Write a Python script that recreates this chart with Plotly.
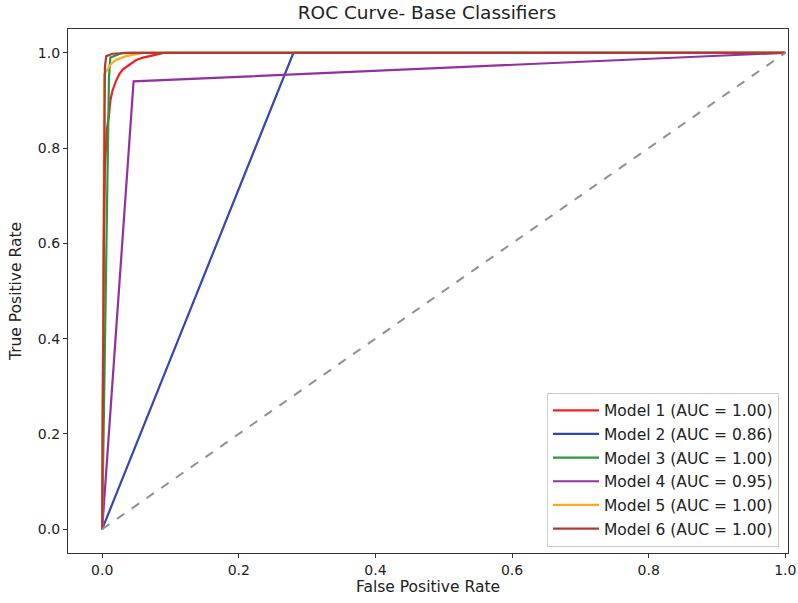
import plotly.graph_objects as go

# ---- data ----
model_names = ["Model 1", "Model 2", "Model 3", "Model 4", "Model 5", "Model 6"]
auc_values = [1.00, 0.86, 1.00, 0.95, 1.00, 1.00]

fpr_m1 = [0.0, 0.001, 0.002, 0.004, 0.007, 0.010, 0.012, 0.015, 0.020, 0.025, 0.030, 0.040, 0.050, 0.060, 0.075, 0.090, 1.0]
tpr_m1 = [0.0, 0.30, 0.55, 0.76, 0.84, 0.87, 0.90, 0.92, 0.94, 0.955, 0.965, 0.975, 0.985, 0.990, 0.995, 1.0, 1.0]

fpr_m2 = [0.0, 0.28, 1.0]
tpr_m2 = [0.0, 1.0, 1.0]

fpr_m3 = [0.0, 0.003, 0.008, 0.010, 0.012, 0.030, 1.0]
tpr_m3 = [0.0, 0.30, 0.70, 0.95, 0.99, 1.0, 1.0]

fpr_m4 = [0.0, 0.046, 1.0]
tpr_m4 = [0.0, 0.94, 1.0]

fpr_m5 = [0.0, 0.002, 0.003, 0.008, 0.012, 0.020, 0.035, 0.060, 1.0]
tpr_m5 = [0.0, 0.90, 0.955, 0.965, 0.975, 0.985, 0.993, 1.0, 1.0]

fpr_m6 = [0.0, 0.003, 0.004, 0.006, 0.015, 0.040, 1.0]
tpr_m6 = [0.0, 0.70, 0.97, 0.993, 0.998, 1.0, 1.0]

chance_x = [0.0, 1.0]
chance_y = [0.0, 1.0]

x_ticks = [0.0, 0.2, 0.4, 0.6, 0.8, 1.0]
y_ticks = [0.0, 0.2, 0.4, 0.6, 0.8, 1.0]

colors = ["#f02020", "#3447b0", "#2a9a3a", "#9330a0", "#ffa820", "#b03a38"]

fprs = [fpr_m1, fpr_m2, fpr_m3, fpr_m4, fpr_m5, fpr_m6]
tprs = [tpr_m1, tpr_m2, tpr_m3, tpr_m4, tpr_m5, tpr_m6]

fig = go.Figure()
for i in range(6):
    fig.add_trace(go.Scatter(
        x=fprs[i], y=tprs[i], mode="lines",
        name=f"{model_names[i]} (AUC = {auc_values[i]:.2f})",
        line=dict(color=colors[i], width=2.2),
        legendgroup=f"g{i}",
    ))

fig.add_trace(go.Scatter(
    x=chance_x, y=chance_y, mode="lines", showlegend=False,
    line=dict(color="#909090", width=2, dash="dash"),
))

font_family = "DejaVu Sans"
fig.update_layout(
    width=798, height=603,
    margin=dict(l=68, r=10, t=29, b=50, autoexpand=False),
    paper_bgcolor="white", plot_bgcolor="white",
    font=dict(family=font_family, size=14, color="#222222"),
    title=dict(text="ROC Curve- Base Classifiers", x=0.535, xanchor="center",
               y=0.99, yanchor="top", font=dict(size=18.5, color="#222222")),
    legend=dict(x=0.9875, y=0.012, xanchor="right", yanchor="bottom",
                bgcolor="white", bordercolor="#cccccc", borderwidth=1,
                font=dict(size=15.5, color="#222222"), tracegroupgap=0.5,
                itemwidth=46),
)
fig.update_xaxes(
    range=[-0.05, 1.004], tickvals=x_ticks, ticktext=[f"{v:.1f}" for v in x_ticks],
    showgrid=False, zeroline=False, showline=True, linecolor="#333333", linewidth=1.2,
    mirror=True, ticks="outside", ticklen=4, tickcolor="#333333",
    tickfont=dict(size=14), ticklabeloverflow="allow", automargin=False,
    title=dict(text="False Positive Rate", font=dict(size=15.5), standoff=2),
)
fig.update_yaxes(
    range=[-0.05, 1.05], tickvals=y_ticks, ticktext=[f"{v:.1f}" for v in y_ticks],
    showgrid=False, zeroline=False, showline=True, linecolor="#333333", linewidth=1.2,
    mirror=True, ticks="outside", ticklen=4, tickcolor="#333333",
    tickfont=dict(size=14), automargin=False,
    title=dict(text="True Positive Rate", font=dict(size=15.5), standoff=12),
)

fig.write_html("out.html")
